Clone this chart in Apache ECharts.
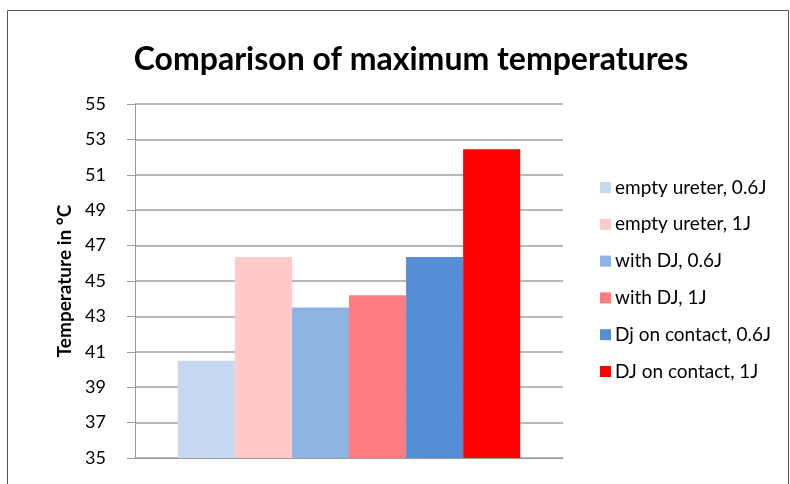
<!DOCTYPE html>
<html>
<head>
<meta charset="utf-8">
<script src="https://cdn.jsdelivr.net/npm/echarts@6/dist/echarts.min.js"></script>
<style>html,body{margin:0;padding:0;background:#fff;}#c{width:790px;height:484px;}</style>
</head>
<body>
<div id="c"></div>
<script>
const categories = [''];
const seriesNames = ['empty ureter, 0.6J', 'empty ureter, 1J', 'with DJ, 0.6J', 'with DJ, 1J', 'Dj on contact, 0.6J', 'DJ on contact, 1J'];
const seriesValues = [40.5, 46.35, 43.5, 44.2, 46.35, 52.45];
const seriesColors = ['#C6D9F1', '#FFCACA', '#8EB4E3', '#FF7C80', '#558ED5', '#FF0000'];
const yTicks = [35, 37, 39, 41, 43, 45, 47, 49, 51, 53, 55];

const chart = echarts.init(document.getElementById('c'));
const font = 'Lato, "Open Sans", sans-serif';
chart.setOption({
  animation: false,
  backgroundColor: '#fff',
  graphic: [{
    type: 'rect', shape: {x: 7.5, y: 10.5, width: 781, height: 490},
    style: {fill: 'none', stroke: '#555', lineWidth: 1}, silent: true
  }],
  title: {
    text: 'Comparison of maximum temperatures',
    left: 406, top: 39, textAlign: 'center',
    textStyle: {fontFamily: font, fontWeight: 'bold', fontSize: 32, color: '#000'}
  },
  legend: {
    orient: 'vertical', left: 595, top: 173, itemGap: 17.8,
    itemWidth: 11, itemHeight: 11, icon: 'rect',
    textStyle: {fontFamily: font, fontSize: 19, color: '#000', padding: [0,0,0,-1]},
    data: seriesNames
  },
  grid: {left: 135, right: 227, top: 104, bottom: 26, containLabel: false},
  xAxis: {
    type: 'category', data: categories,
    axisLine: {show: true, lineStyle: {color: '#999', width: 1}},
    axisTick: {show: false}, axisLabel: {show: false}
  },
  yAxis: {
    type: 'value', min: yTicks[0], max: yTicks[yTicks.length - 1], interval: 2,
    name: 'Temperature in °C', nameLocation: 'middle', nameGap: 61, nameRotate: 90,
    nameTextStyle: {fontFamily: font, fontWeight: 'bold', fontSize: 19, color: '#000'},
    axisLine: {show: true, lineStyle: {color: '#999', width: 1}},
    axisTick: {show: true, length: 8, lineStyle: {color: '#999'}},
    axisLabel: {fontFamily: font, fontSize: 18, color: '#000', margin: 29},
    splitLine: {show: true, lineStyle: {color: '#a0a0a0', width: 1.5}}
  },
  series: seriesNames.map((n, i) => ({
    name: n, type: 'bar', data: [seriesValues[i]],
    itemStyle: {color: seriesColors[i]},
    barGap: '0%', barCategoryGap: '20%'
  }))
});
</script>
</body>
</html>
